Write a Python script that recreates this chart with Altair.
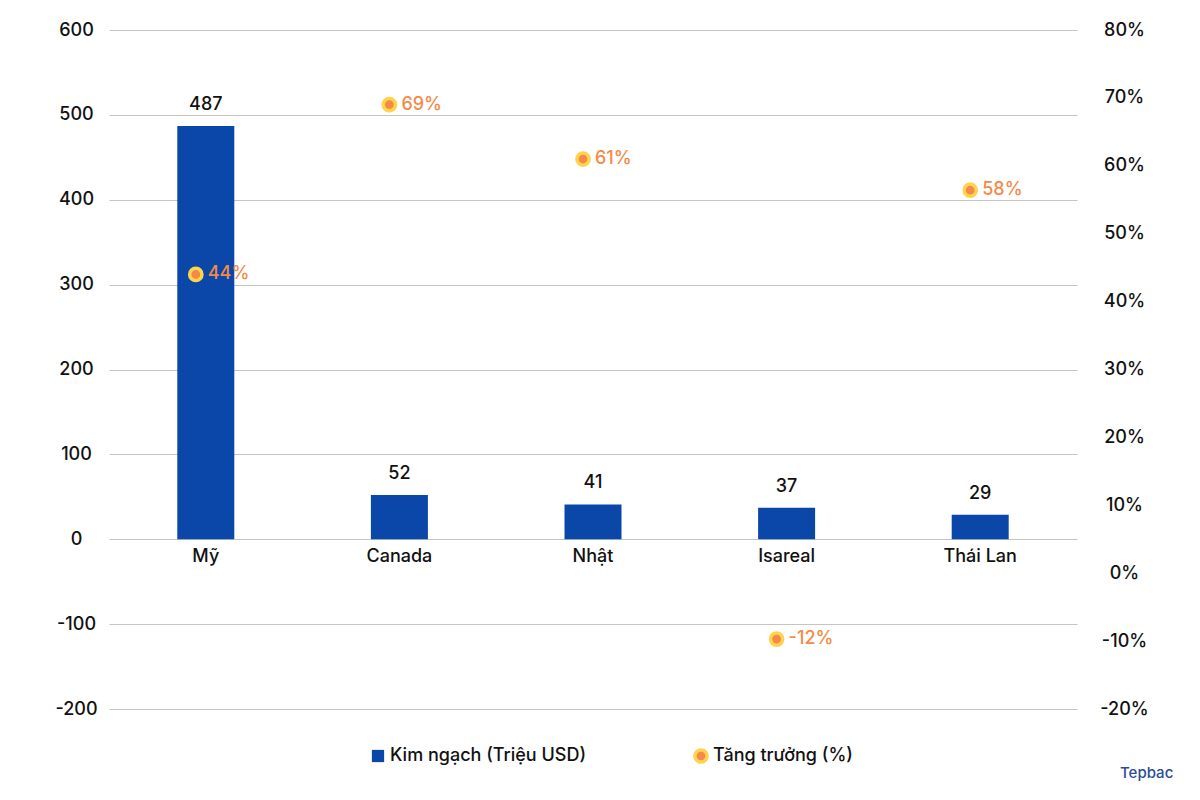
import altair as alt
import pandas as pd

countries = ["Mỹ", "Canada", "Nhật", "Isareal", "Thái Lan"]
turnover = [487, 52, 41, 37, 29]
# growth positions as drawn on the right axis, and their printed labels
growth = [44, 69, 61, -9.7, 56.4]
growth_labels = ["44%", "69%", "61%", "-12%", "58%"]

left_ticks = [-200, -100, 0, 100, 200, 300, 400, 500, 600]
right_ticks = [-20, -10, 0, 10, 20, 30, 40, 50, 60, 70, 80]

df = pd.DataFrame({
    "country": countries,
    "value": turnover,
    "growth": growth,
    "glabel": growth_labels,
})

FONT = "Inter"
FS = 18
BLUE = "#0A47A9"
ORANGE = "#F58A47"
YELLOW = "#FFD34E"

xenc = alt.X("country:N", sort=countries, axis=None,
             scale=alt.Scale(range=[-6, 962], paddingInner=0, paddingOuter=0))

base = alt.Chart(df)

bars = base.mark_bar(color=BLUE, size=57).encode(
    x=xenc,
    y=alt.Y("value:Q", scale=alt.Scale(domain=[-200, 600], nice=False),
            axis=alt.Axis(values=left_ticks, grid=True, gridColor="#c4c4c4",
                          gridWidth=1, domain=False, ticks=False, title=None,
                          labelExpr="'' + datum.value",
                          labelPadding=39, labelAlign="center",
                          labelFontSize=FS, labelFont=FONT, labelFontWeight=500,
                          labelColor="#111111")),
)

bar_labels = base.mark_text(dy=-16, baseline="alphabetic", fontSize=FS,
                            font=FONT, fontWeight=500, color="#111111").encode(
    x=xenc, y="value:Q", text="value:Q")

cat_labels = base.mark_text(dy=18, baseline="middle", fontSize=FS,
                            font=FONT, fontWeight=500, color="#111111").encode(
    x=xenc, y=alt.datum(0), text="country:N")

legend_df = alt.Data(values=[{"a": 1}])
leg_sq = alt.Chart(legend_df).mark_point(shape="square", filled=True, size=150,
                                         color=BLUE, opacity=1).encode(
    x=alt.value(263), y=alt.value(726))
leg_sq_t = alt.Chart(legend_df).mark_text(align="left", baseline="middle",
                                          fontSize=FS, font=FONT, fontWeight=500,
                                          color="#111111",
                                          text="Kim ngạch (Triệu USD)").encode(
    x=alt.value(275), y=alt.value(726))
leg_c = alt.Chart(legend_df).mark_point(shape="circle", filled=True, size=150,
                                        fill=ORANGE, stroke=YELLOW, strokeWidth=3.5,
                                        opacity=1).encode(
    x=alt.value(586), y=alt.value(726))
leg_c_t = alt.Chart(legend_df).mark_text(align="left", baseline="middle",
                                         fontSize=FS, font=FONT, fontWeight=500,
                                         color="#111111",
                                         text="Tăng trưởng (%)").encode(
    x=alt.value(598), y=alt.value(726))
mark_t = alt.Chart(legend_df).mark_text(align="left", baseline="middle",
                                        fontSize=15, font=FONT, fontWeight=500,
                                        color="#2A4C9A", text="Tepbac").encode(
    x=alt.value(1005), y=alt.value(743))

left = alt.layer(bars, bar_labels, cat_labels, leg_sq, leg_sq_t, leg_c, leg_c_t, mark_t)

yr = alt.Y("growth:Q", scale=alt.Scale(domain=[-20, 80], nice=False),
           axis=alt.Axis(orient="right", values=right_ticks, grid=False,
                         domain=False, ticks=False, title=None,
                         labelExpr="datum.value + '%'",
                         labelPadding=59, labelAlign="center",
                         labelFontSize=FS, labelFont=FONT, labelFontWeight=500,
                         labelColor="#111111"))

points = base.mark_point(shape="circle", filled=True, size=150, fill=ORANGE,
                         stroke=YELLOW, strokeWidth=3.5, opacity=1,
                         xOffset=-10).encode(x=xenc, y=yr)

point_labels = base.mark_text(align="left", baseline="middle", dx=2,
                              fontSize=FS, font=FONT, fontWeight=500,
                              color=ORANGE).encode(
    x=xenc, y="growth:Q", text="glabel:N")

right = alt.layer(points, point_labels)

chart = alt.layer(left, right).resolve_scale(y="independent").properties(
    width=950, height=679,
    autosize="none",
    padding={"left": 107, "top": 22, "right": 120, "bottom": 80},
    background="white",
).configure_view(stroke=None)

chart.save("out.html", embed_options={"renderer": "svg", "actions": False})
